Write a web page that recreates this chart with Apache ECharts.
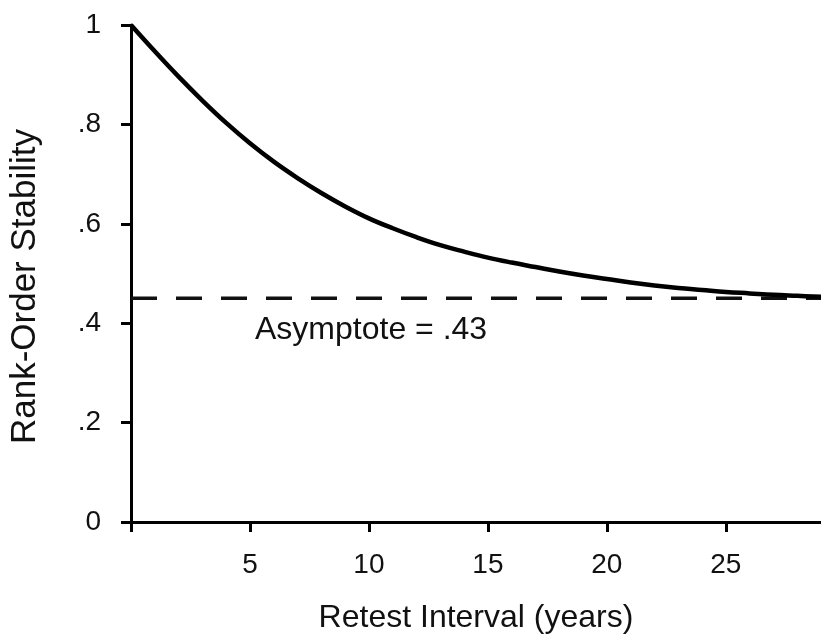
<!DOCTYPE html>
<html>
<head>
<meta charset="utf-8">
<script src="https://cdn.jsdelivr.net/npm/echarts@6/dist/echarts.min.js"></script>
<style>
  html, body { margin: 0; padding: 0; background: #fff; }
  #chart { width: 821px; height: 639px; }
</style>
</head>
<body>
<div id="chart"></div>
<script>
// Data
var retestYears = [0, 1, 2, 3, 4, 5, 6, 7, 8, 9, 10, 11, 12, 13, 14, 15, 16, 17, 18, 19, 20, 21, 22, 23, 24, 25, 26, 27, 28, 29];
var stability   = [1.0, 0.947, 0.896, 0.848, 0.803, 0.762, 0.725, 0.692, 0.662, 0.635, 0.611, 0.591, 0.573, 0.557, 0.544, 0.532, 0.522, 0.513, 0.504, 0.496, 0.489, 0.482, 0.476, 0.471, 0.467, 0.463, 0.460, 0.457, 0.455, 0.453];
var asymptoteX = [0, 29];
var asymptoteY = [0.45, 0.45];
var asymptoteLabel = 'Asymptote = .43';
var xTickValues = [0, 5, 10, 15, 20, 25];
var xLabelValues = [5, 10, 15, 20, 25];
var yTickLabels = { '0': '0', '0.2': '.2', '0.4': '.4', '0.6': '.6', '0.8': '.8', '1': '1' };

var FONT = 'Liberation Sans, Arial, sans-serif';
var TXT = '#111';

var curveData = retestYears.map(function (x, i) { return [x, stability[i]]; });
var asymData = asymptoteX.map(function (x, i) { return [x, asymptoteY[i]]; });

var chart = echarts.init(document.getElementById('chart'), null, { renderer: 'canvas' });
chart.setOption({
  animation: false,
  backgroundColor: '#fff',
  grid: { left: 131, right: 0, top: 25, bottom: 114, containLabel: false },
  xAxis: {
    type: 'value', min: 0, max: 29, interval: 5,
    name: 'Retest Interval (years)', nameLocation: 'middle', nameGap: 80,
    nameTextStyle: { fontFamily: FONT, fontSize: 32, color: TXT },
    axisLine: { show: true, onZero: false, lineStyle: { color: '#000', width: 3 } },
    axisTick: { show: true, inside: false, length: 10, customValues: xTickValues, lineStyle: { color: '#000', width: 3 } },
    axisLabel: {
      margin: 29, fontFamily: FONT, fontSize: 28, color: TXT,
      customValues: xLabelValues,
      formatter: function (v) { return String(v); }
    },
    splitLine: { show: false }
  },
  yAxis: {
    type: 'value', min: 0, max: 1, interval: 0.2,
    name: 'Rank-Order Stability', nameLocation: 'middle', nameGap: 88, nameRotate: 90,
    nameTextStyle: { fontFamily: FONT, fontSize: 35, color: TXT, padding: [0, 26, 0, 0] },
    axisLine: { show: true, onZero: false, lineStyle: { color: '#000', width: 3 } },
    axisTick: { show: true, inside: false, length: 10, lineStyle: { color: '#000', width: 3 } },
    axisLabel: {
      margin: 30, fontFamily: FONT, fontSize: 28, color: TXT,
      formatter: function (v) { var k = String(Math.round(v * 10) / 10); return yTickLabels[k] !== undefined ? yTickLabels[k] : ''; }
    },
    splitLine: { show: false }
  },
  series: [
    {
      type: 'line', data: asymData, symbol: 'none', silent: true, z: 2,
      lineStyle: { color: '#111', width: 3.5, type: [26, 19] }
    },
    {
      type: 'line', data: curveData, symbol: 'none', smooth: 0.4, silent: true, z: 3,
      lineStyle: { color: '#000', width: 4.5 }
    }
  ],
  graphic: [
    {
      type: 'text', left: 255, top: 314,
      style: { text: asymptoteLabel, font: '32px ' + FONT, fill: TXT }
    }
  ]
});
</script>
</body>
</html>
